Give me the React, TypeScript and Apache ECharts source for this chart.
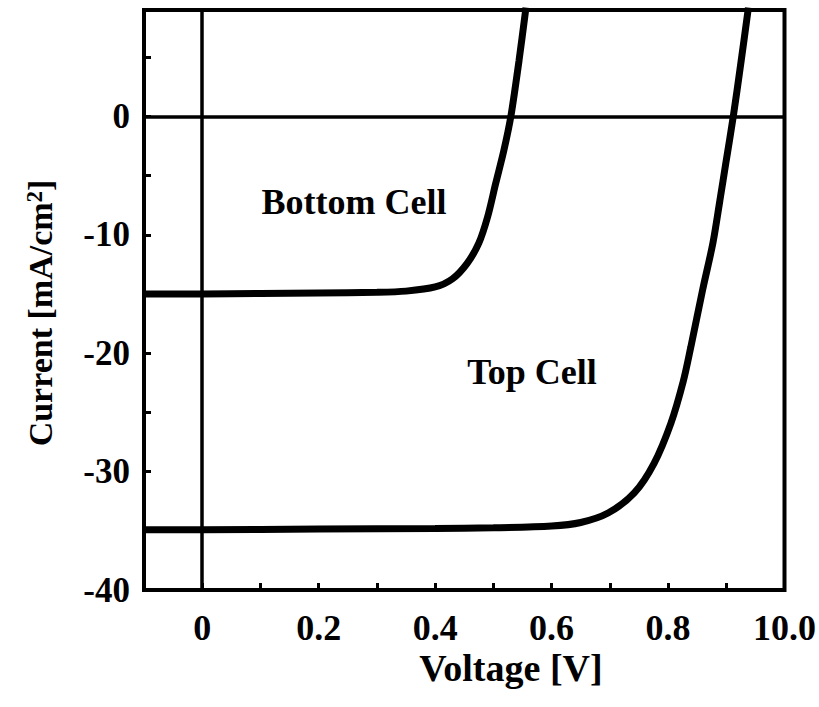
import React, { useEffect, useRef } from "react";
import * as echarts from "echarts";

const bottomCellV = [-0.1, 0, 0.1, 0.2, 0.3, 0.35, 0.4, 0.43, 0.455, 0.475, 0.49, 0.504, 0.518, 0.53, 0.544, 0.556];
const bottomCellJ = [-15.0, -15.0, -14.95, -14.9, -14.85, -14.75, -14.4, -13.7, -12.4, -10.7, -8.5, -5.65, -2.87, 0, 4.7, 9.2];

const topCellV = [-0.1, 0, 0.2, 0.4, 0.5, 0.6, 0.65, 0.697, 0.742, 0.776, 0.805, 0.826, 0.839, 0.86, 0.877, 0.889, 0.9, 0.912, 0.925, 0.938];
const topCellJ = [-34.9, -34.9, -34.85, -34.8, -34.75, -34.6, -34.3, -33.5, -31.8, -29.3, -25.9, -22.4, -19.5, -14.5, -10.7, -7.1, -3.7, 0, 4.5, 9.2];

const xTickLabels: Record<number, string> = { 0: "0", 2: "0.2", 4: "0.4", 6: "0.6", 8: "0.8", 10: "10.0" };
const yTickLabels: Record<number, string> = { 0: "0", [-10]: "-10", [-20]: "-20", [-30]: "-30", [-40]: "-40" };

const FONT = "'Liberation Serif', 'Times New Roman', serif";

export default function App() {
  const ref = useRef<HTMLDivElement>(null);
  useEffect(() => {
    if (!ref.current) return;
    const chart = echarts.init(ref.current, null, { renderer: "svg" });
    const line = (vs: number[], js: number[]) => vs.map((v, i) => [v, js[i]]);
    chart.setOption({
      animation: false,
      backgroundColor: "#fff",
      grid: {
        left: 144,
        top: 10,
        width: 642,
        height: 580,
        show: true,
        borderColor: "#000",
        borderWidth: 4,
        containLabel: false,
      },
      xAxis: {
        type: "value",
        min: -0.1,
        max: 1.0,
        interval: 0.1,
        axisLine: { show: false, onZero: false },
        axisTick: { show: true, inside: true, length: 7, lineStyle: { color: "#000", width: 3 } },
        splitLine: { show: false },
        axisLabel: {
          margin: 20,
          color: "#000",
          fontFamily: FONT,
          fontWeight: "bold",
          fontSize: 36,
          formatter: (v: number) => {
            const r = Math.round(v * 10);
            return xTickLabels[r] ?? "";
          },
        },
      },
      yAxis: {
        type: "value",
        min: -40,
        max: 9,
        interval: 5,
        axisLine: { show: false, onZero: false },
        axisTick: { show: true, inside: true, length: 7, lineStyle: { color: "#000", width: 3 } },
        splitLine: { show: false },
        axisLabel: {
          margin: 14,
          color: "#000",
          fontFamily: FONT,
          fontWeight: "bold",
          fontSize: 35,
          padding: [16, 0, 0, 0],
          formatter: (v: number) => yTickLabels[Math.round(v)] ?? "",
        },
      },
      series: [
        {
          type: "line",
          data: line(bottomCellV, bottomCellJ),
          smooth: 0.3,
          showSymbol: false,
          lineStyle: { color: "#000", width: 7 },
          markLine: {
            silent: true,
            symbol: ["none", "none"],
            label: { show: false },
            lineStyle: { color: "#000", width: 3.5, type: "solid" },
            data: [{ xAxis: 0 }, { yAxis: 0 }],
          },
        },
        {
          type: "line",
          data: line(topCellV, topCellJ),
          smooth: 0.3,
          showSymbol: false,
          lineStyle: { color: "#000", width: 7 },
        },
      ],
      graphic: [
        {
          type: "text",
          x: 354,
          y: 202,
          style: { text: "Bottom Cell", fontFamily: FONT, fontWeight: "bold", fontSize: 36, fill: "#000", align: "center", verticalAlign: "middle" },
        },
        {
          type: "text",
          x: 532,
          y: 372,
          style: { text: "Top Cell", fontFamily: FONT, fontWeight: "bold", fontSize: 36, fill: "#000", align: "center", verticalAlign: "middle" },
        },
        {
          type: "text",
          x: 511,
          y: 668,
          style: { text: "Voltage [V]", fontFamily: FONT, fontWeight: "bold", fontSize: 38, fill: "#000", align: "center", verticalAlign: "middle" },
        },
        {
          type: "text",
          x: 40,
          y: 313,
          rotation: Math.PI / 2,
          style: {
            text: "{a|Current [mA/cm}{s|2}{a|]}",
            align: "center",
            verticalAlign: "middle",
            rich: {
              a: { fontFamily: FONT, fontWeight: "bold", fontSize: 34, fill: "#000", color: "#000" },
              s: { fontFamily: FONT, fontWeight: "bold", fontSize: 23, fill: "#000", color: "#000", verticalAlign: "top" },
            },
          },
        },
      ],
    });
    return () => chart.dispose();
  }, []);
  return (
    <div
      ref={ref}
      style={{ position: "fixed", left: 0, top: 0, width: "819px", height: "707px", background: "#fff" }}
    />
  );
}
